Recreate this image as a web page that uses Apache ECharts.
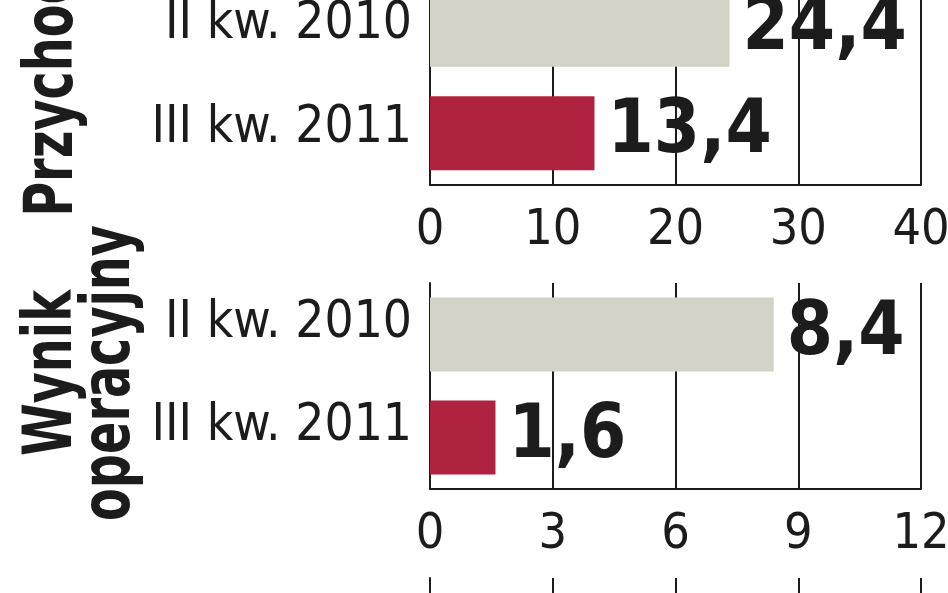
<!DOCTYPE html>
<html>
<head>
<meta charset="utf-8">
<script src="https://cdn.jsdelivr.net/npm/echarts@6/dist/echarts.min.js"></script>
<style>
html,body{margin:0;padding:0;background:#fff;}
#chart{width:948px;height:593px;}
</style>
</head>
<body>
<div id="chart"></div>
<script>
// ---- data ----
var categories = ['II kw. 2010', 'III kw. 2011'];
var revenueValues = [24.4, 13.4];      // Przychody
var operatingValues = [8.4, 1.6];      // Wynik operacyjny
var revenueTicks = { min: 0, max: 40, interval: 10 };
var operatingTicks = { min: 0, max: 12, interval: 3 };
var sectionTitles = ['Przychody', 'Wynik', 'operacyjny'];

// ---- styles ----
var GREY = '#d4d3c8', RED = '#af2341', INK = '#1c1c1c';
var FONT = '"DejaVu Sans Condensed", "Liberation Sans Narrow", sans-serif';

function barColor(p) { return p.dataIndex === 0 ? GREY : RED; }

function valueAxis(idx, t, showLabels) {
  return {
    type: 'value', gridIndex: idx, min: t.min, max: t.max, interval: t.interval,
    axisLine: { show: true, onZero: false, lineStyle: { color: INK, width: 2 } },
    axisTick: { show: false },
    splitLine: { show: true, lineStyle: { color: INK, width: 2 } },
    axisLabel: { show: showLabels, color: INK, fontFamily: FONT, fontSize: 50, margin: 21 }
  };
}
function catAxis(idx, shift, data) {
  return {
    type: 'category', gridIndex: idx, data: data, inverse: true,
    axisLine: { show: true, lineStyle: { color: INK, width: 2 } },
    axisTick: { show: false },
    axisLabel: { color: INK, fontFamily: FONT, fontSize: 51, margin: 18,
                 verticalAlign: 'bottom', lineHeight: shift * 2 }
  };
}
function barSeries(idx, values) {
  return {
    type: 'bar', xAxisIndex: idx, yAxisIndex: idx, data: values, barWidth: 74,
    itemStyle: { color: barColor },
    label: {
      show: true, position: 'right', distance: 13, color: INK,
      fontFamily: FONT, fontWeight: 'bold', fontSize: 74,
      formatter: function (p) { return String(p.value).replace('.', ','); }
    }
  };
}
function title(text, x, y) {
  return { type: 'text', x: x, y: y, rotation: Math.PI / 2, scaleX: 0.78,
           style: { text: text, font: 'bold 68px ' + FONT, fill: INK,
                    textAlign: 'center', textVerticalAlign: 'middle' } };
}

var chart = echarts.init(document.getElementById('chart'));
chart.setOption({
  animation: false,
  backgroundColor: '#fff',
  grid: [
    { left: 430, right: 27, top: -22, height: 207, outerBoundsMode: 'none' },
    { left: 430, right: 27, top: 283, height: 206, outerBoundsMode: 'none' },
    { left: 430, right: 27, top: 578, height: 206, outerBoundsMode: 'none' }
  ],
  xAxis: [
    valueAxis(0, revenueTicks, true),
    valueAxis(1, operatingTicks, true),
    valueAxis(2, operatingTicks, false)
  ],
  yAxis: [
    catAxis(0, 5, categories),
    catAxis(1, 11, categories),
    catAxis(2, 0, [])
  ],
  series: [
    barSeries(0, revenueValues),
    barSeries(1, operatingValues)
  ],
  graphic: [
    title(sectionTitles[0], 54, 78),
    title(sectionTitles[1], 53, 373),
    title(sectionTitles[2], 111, 373)
  ]
});
</script>
</body>
</html>
